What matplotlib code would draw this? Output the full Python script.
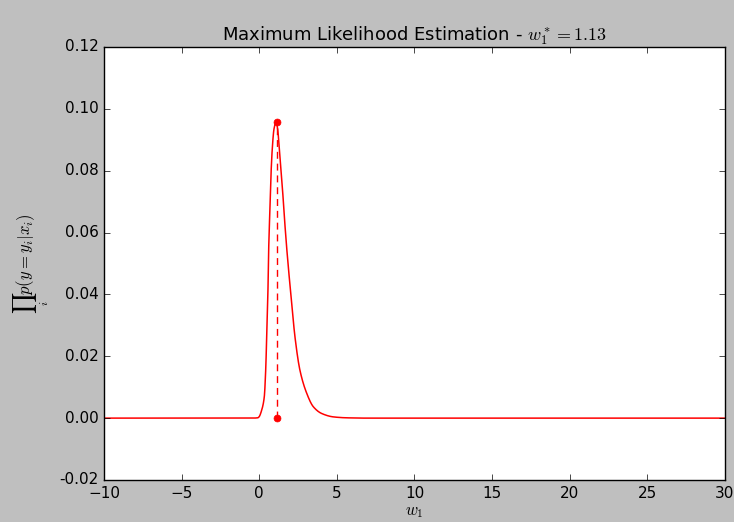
import numpy as np
import matplotlib
matplotlib.use('Agg')
import matplotlib.pyplot as plt

plt.style.use('classic')

# likelihood curve
w1 = [-10.0, -0.5, -0.1, -0.016, 0.158, 0.325, 0.415, 0.48, 0.545, 0.583, 0.609,
      0.673, 0.738, 0.84, 0.95, 1.08, 1.18, 1.29, 1.465, 1.61, 1.77,
      2.09, 2.30, 2.62, 3.06, 3.48, 4.02, 4.77, 5.63, 7.0, 30.0]
lik = [0.0, 0.0, 0.0001, 0.0004, 0.0026, 0.0069, 0.0155, 0.0263, 0.0371, 0.0478, 0.0549,
       0.0656, 0.0764, 0.0872, 0.0935, 0.0957, 0.0937, 0.0872, 0.0764, 0.0656, 0.0549,
       0.0371, 0.0263, 0.0155, 0.0080, 0.0037, 0.0015, 0.0004, 0.0001, 0.0, 0.0]

w_star = 1.13
lik_max = 0.0957


def pchip(x, y, xn):
    # monotone cubic so the read points join smoothly
    x = np.asarray(x, float)
    y = np.asarray(y, float)
    h = np.diff(x)
    d = np.diff(y) / h
    m = np.zeros_like(y)
    for k in range(1, len(x) - 1):
        if d[k - 1] * d[k] > 0:
            w_a = 2 * h[k] + h[k - 1]
            w_b = h[k] + 2 * h[k - 1]
            m[k] = (w_a + w_b) / (w_a / d[k - 1] + w_b / d[k])
    idx = np.clip(np.searchsorted(x, xn) - 1, 0, len(x) - 2)
    t = (xn - x[idx]) / h[idx]
    h00 = 2 * t**3 - 3 * t**2 + 1
    h10 = t**3 - 2 * t**2 + t
    h01 = -2 * t**3 + 3 * t**2
    h11 = t**3 - t**2
    return h00 * y[idx] + h10 * h[idx] * m[idx] + h01 * y[idx + 1] + h11 * h[idx] * m[idx + 1]


ws = np.linspace(-10, 30, 4000)
ls = pchip(w1, lik, ws)

fig = plt.figure(figsize=(7.34, 5.22), dpi=100)
ax = fig.add_axes([0.1417, 0.0805, 0.8460, 0.8295])

ax.plot(ws, ls, 'r-', lw=1.1)
ax.plot([w_star, w_star], [0, lik_max], 'ro--', ms=5, mec='r', dashes=(5, 3.5))

ax.set_xlim(-10, 30)
ax.set_ylim(-0.02, 0.12)
ax.set_xticks(np.arange(-10, 31, 5))
ax.set_yticks(np.arange(-0.02, 0.121, 0.02))
ax.set_yticklabels(['%.2f' % v for v in np.arange(-0.02, 0.121, 0.02)])
ax.tick_params(labelsize=11)

ax.set_title(r'Maximum Likelihood Estimation - $w_1^* = %.2f$' % w_star, fontsize=13)
ax.set_xlabel(r'$w_1$', fontsize=12, labelpad=1)
ax.set_ylabel(r'$\prod_i p(y=y_i|x_i)$', fontsize=12, labelpad=6)

fig.savefig('out.png', dpi=100, facecolor=fig.get_facecolor())
